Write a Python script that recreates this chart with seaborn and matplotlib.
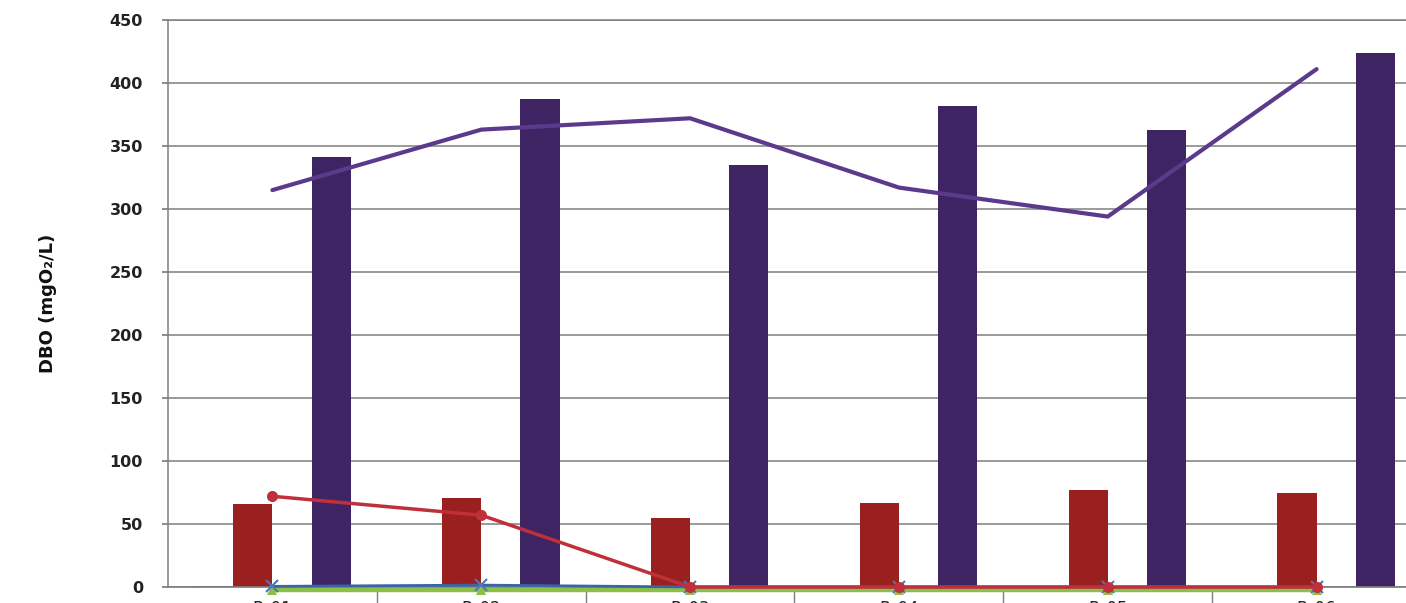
import matplotlib
matplotlib.use("Agg")
import matplotlib.pyplot as plt
import seaborn as sns
import numpy as np
import pandas as pd

categories = ["P_01", "P_02", "P_03", "P_04", "P_05", "P_06"]
bar_series = ["S1", "S2", "S3", "S4"]
bar_s1 = [1, 0, 0, 0, 0, 0]
bar_s2 = [66, 71, 55, 67, 77, 75]
bar_s3 = [0, 0, 0, 0, 0, 0]
bar_s4 = [341, 387, 335, 382, 363, 424]

line_blue = [0.5, 1.5, 0, 0, 0, 0]
line_red = [72, 57, 0, 0, 0, 0]
line_green = [-2, -2, -2, -2, -2, -2]
line_purple = [315, 363, 372, 317, 294, 411]

yticks = [0, 50, 100, 150, 200, 250, 300, 350, 400, 450]

bar_colors = ["#3a63a8", "#9a1f1f", "#86b43f", "#3e2463"]

sns.set_theme(style="white")
plt.rcParams["font.family"] = ["DejaVu Sans"]

fig = plt.figure(figsize=(14.06, 6.03), dpi=100)
ax = fig.add_axes([168 / 1406, 16 / 603, (1421 - 168) / 1406, 567 / 603])

df = pd.DataFrame({
    "cat": categories * 4,
    "series": sum([[s] * 6 for s in bar_series], []),
    "val": bar_s1 + bar_s2 + bar_s3 + bar_s4,
})
sns.barplot(data=df, x="cat", y="val", hue="series", order=categories,
            hue_order=bar_series, palette=bar_colors, width=0.75,
            saturation=1, ax=ax, legend=False, linewidth=0, zorder=2)

xs = np.arange(len(categories))
sns.lineplot(x=xs, y=line_green, color="#8cbf45", lw=3.2, marker="^",
             markersize=7, markeredgewidth=0, ax=ax, zorder=3)
sns.lineplot(x=xs, y=line_blue, color="#3a63a8", lw=2, marker="x",
             markersize=8, markeredgewidth=1.5, markeredgecolor="#4a78b8",
             ax=ax, zorder=4)
sns.lineplot(x=xs, y=line_red, color="#c0303a", lw=2.5, marker="o",
             markersize=8, markeredgewidth=0, ax=ax, zorder=5)
sns.lineplot(x=xs, y=line_purple, color="#5b3a8c", lw=3, ax=ax, zorder=5)
for ln in ax.lines:
    ln.set_clip_on(False)

ax.set_xlim(-0.5, len(categories) - 0.5)
ax.set_ylim(0, 450)
ax.set_yticks(yticks)
ax.grid(axis="y", color="#7f7f7f", lw=1.1, zorder=0)
ax.set_axisbelow(True)

ax.set_xticks(xs)
ax.set_xticklabels(categories, fontsize=12, color="#222222")
ax.set_xticks(xs[:-1] + 0.5, minor=True)
ax.tick_params(axis="x", which="major", length=0, pad=9)
ax.tick_params(axis="x", which="minor", length=16, width=1, color="#7f7f7f",
               direction="out", bottom=True)
ax.tick_params(axis="y", length=4, color="#7f7f7f", labelsize=11.5,
               labelcolor="#222222", left=True, pad=14)
for lab in ax.get_yticklabels():
    lab.set_fontweight("bold")

ax.set_xlabel("")
ax.set_ylabel("DBO (mgO₂/L)", fontsize=13, fontweight="bold",
              color="#111111", labelpad=38)

for side in ["left", "top"]:
    ax.spines[side].set_color("#7f7f7f")
    ax.spines[side].set_linewidth(1.1)
ax.spines["right"].set_visible(False)
ax.spines["bottom"].set_color("#7f7f7f")
ax.spines["bottom"].set_zorder(2.5)

fig.savefig("out.png", dpi=100)
